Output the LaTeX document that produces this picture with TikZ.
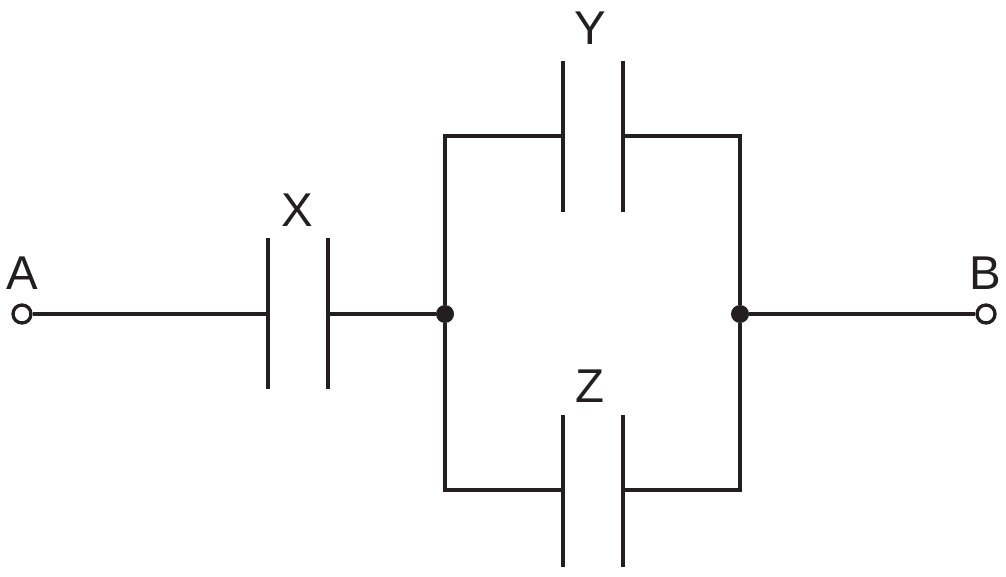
\documentclass[tikz,border=0pt]{standalone}
\usepackage{fontspec}
\setmainfont{Liberation Sans}
\usetikzlibrary{positioning}
\definecolor{wireGray}{RGB}{35,31,32}

\begin{document}
\begin{tikzpicture}[x=0.02cm, y=-0.02cm,
    wire/.style={line width=2.1pt, draw=wireGray},
    plate/.style={line width=2.1pt, draw=wireGray},
    term/.style={circle, draw=wireGray, line width=1.9pt, fill=white, inner sep=0pt, minimum size=0.36cm},
    junct/.style={circle, fill=wireGray, inner sep=0pt, minimum size=0.36cm},
    lbl/.style={font=\fontsize{27}{30}\selectfont, text=wireGray}
]
    \useasboundingbox (0,0) rectangle (1006,577);
    % terminals and junctions
    \node[term] (A) at (22,314) {};
    \node[term] (B) at (986,314) {};
    \node[junct] (jL) at (445,314) {};
    \node[junct] (jR) at (740,314) {};
    \node[lbl] (lA) at (22,273) {A};
    \node[lbl] (lB) at (985,273) {B};

    % capacitor X
    \coordinate (x1) at (268,314);
    \coordinate (x2) at (328,314);
    \draw[plate] (268,238) -- (268,389);
    \draw[plate] (328,238) -- (328,389);
    \node[lbl] (lX) at (297,210) {X};

    % capacitor Y
    \coordinate (y1) at (563,136);
    \coordinate (y2) at (623,136);
    \draw[plate] (563,61) -- (563,212);
    \draw[plate] (623,61) -- (623,212);
    \node[lbl] (lY) at (590,28) {Y};

    % capacitor Z
    \coordinate (z1) at (563,490);
    \coordinate (z2) at (623,490);
    \draw[plate] (563,415) -- (563,567);
    \draw[plate] (623,415) -- (623,567);
    \node[lbl] (lZ) at (590,386) {Z};

    % wires
    \draw[wire] (A) -- (x1);
    \draw[wire] (x2) -- (jL);
    \draw[wire] (jR) -- (B);
    \draw[wire] (y1) -| (jL) |- (z1);
    \draw[wire] (y2) -| (jR) |- (z2);
\end{tikzpicture}
\end{document}
